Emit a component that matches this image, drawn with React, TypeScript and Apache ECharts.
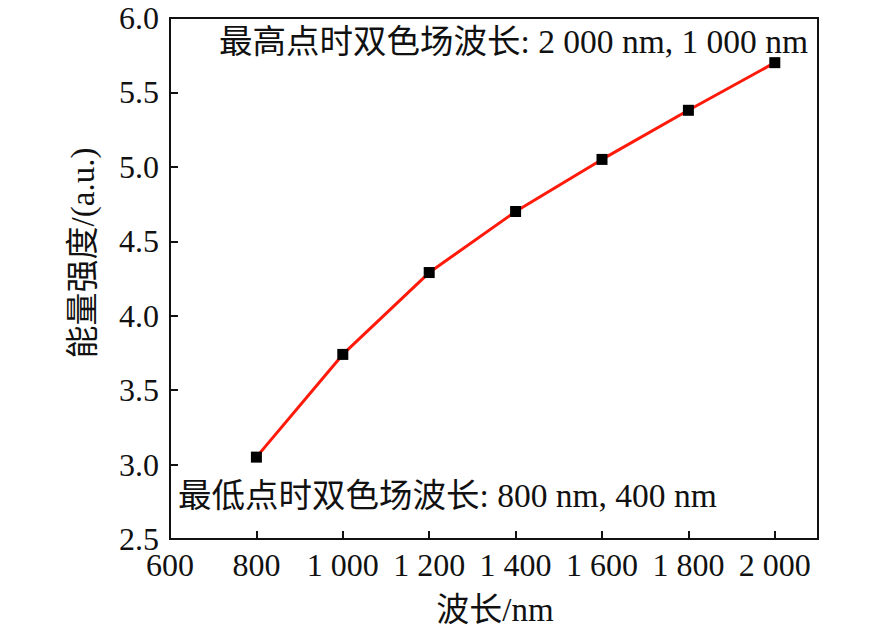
import React, { useEffect, useRef } from "react";
import * as echarts from "echarts";

const wavelengths = [800, 1000, 1200, 1400, 1600, 1800, 2000];
const energy = [3.05, 3.74, 4.29, 4.7, 5.05, 5.38, 5.7];
const xTicks = [600, 800, 1000, 1200, 1400, 1600, 1800, 2000];
const yTicks = [2.5, 3.0, 3.5, 4.0, 4.5, 5.0, 5.5, 6.0];
const xName = "波长/nm";
const yName = "能量强度/(a.u.)";
const noteHigh = "最高点时双色场波长: 2 000 nm, 1 000 nm";
const noteLow = "最低点时双色场波长: 800 nm, 400 nm";

const FONT = "'Liberation Serif', 'Noto Sans CJK SC', serif";

function fmtX(v: number): string {
  if (v >= 1000) {
    return `${Math.floor(v / 1000)} ${String(v % 1000).padStart(3, "0")}`;
  }
  return String(v);
}

export default function App() {
  const ref = useRef<HTMLDivElement>(null);
  useEffect(() => {
    if (!ref.current) return;
    const chart = echarts.init(ref.current, null, { renderer: "svg" });
    chart.setOption({
      animation: false,
      backgroundColor: "#ffffff",
      grid: {
        left: 170,
        right: 68,
        top: 18,
        bottom: 93,
        show: true,
        borderColor: "#111",
        borderWidth: 2,
        backgroundColor: "transparent",
      },
      xAxis: {
        type: "value",
        min: 600,
        max: 2100,
        interval: 200,
        axisLine: { show: true, lineStyle: { color: "#111", width: 2 } },
        axisTick: {
          show: true,
          inside: true,
          length: 8,
          customValues: xTicks,
          lineStyle: { color: "#111", width: 2 },
        },
        axisLabel: {
          customValues: xTicks,
          formatter: (v: number) => fmtX(v),
          color: "#111",
          fontFamily: FONT,
          fontSize: 32,
          margin: 10,
        },
        splitLine: { show: false },
      },
      yAxis: {
        type: "value",
        min: 2.5,
        max: 6.0,
        interval: 0.5,
        axisLine: { show: true, lineStyle: { color: "#111", width: 2 } },
        axisTick: {
          show: true,
          inside: true,
          length: 8,
          customValues: yTicks,
          lineStyle: { color: "#111", width: 2 },
        },
        axisLabel: {
          customValues: yTicks,
          formatter: (v: number) => v.toFixed(1),
          color: "#111",
          fontFamily: FONT,
          fontSize: 32,
          margin: 11,
        },
        splitLine: { show: false },
      },
      series: [
        {
          type: "line",
          data: wavelengths.map((w, i) => [w, energy[i]]),
          symbol: "rect",
          symbolSize: 11,
          itemStyle: { color: "#000" },
          lineStyle: { color: "#ff1a0a", width: 3 },
          z: 3,
        },
      ],
      graphic: [
        {
          type: "text",
          x: 83,
          y: 253,
          rotation: Math.PI / 2,
          style: {
            text: yName,
            fontFamily: FONT,
            fontSize: 33,
            fill: "#111",
            align: "center",
            verticalAlign: "middle",
          },
        },
        {
          type: "text",
          x: 495,
          y: 610,
          style: {
            text: xName,
            fontFamily: FONT,
            fontSize: 33,
            fill: "#111",
            align: "center",
            verticalAlign: "middle",
          },
        },
        {
          type: "text",
          x: 219,
          y: 41,
          style: {
            text: noteHigh,
            fontFamily: FONT,
            fontSize: 33.5,
            fill: "#111",
            align: "left",
            verticalAlign: "middle",
          },
        },
        {
          type: "text",
          x: 178,
          y: 495,
          style: {
            text: noteLow,
            fontFamily: FONT,
            fontSize: 33.5,
            fill: "#111",
            align: "left",
            verticalAlign: "middle",
          },
        },
      ],
    });
    return () => chart.dispose();
  }, []);
  return (
    <div
      ref={ref}
      style={{ position: "fixed", left: 0, top: 0, width: 886, height: 632 }}
    />
  );
}
